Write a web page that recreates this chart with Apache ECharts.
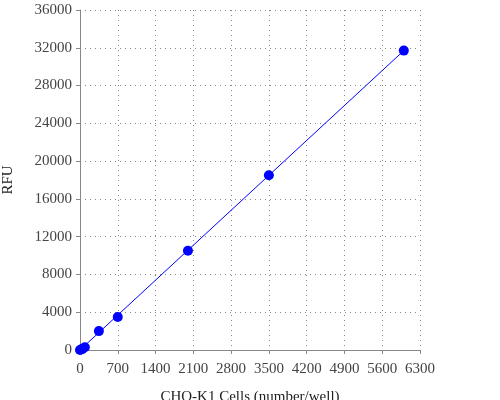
<!DOCTYPE html><html><head><script src="https://cdn.jsdelivr.net/npm/echarts@6/dist/echarts.min.js"></script></head><body style="margin:0"><div id="c" style="width:500px;height:400px"></div><script>
const xVals=[0,20,45,90,350,700,2000,3500,6000];
const yVals=[0,60,120,300,2000,3500,10500,18500,31700];
const fitX=[0,6000];const fitY=[0,31700];
const ch=echarts.init(document.getElementById('c'));
const f='Liberation Serif';
const ax={axisLine:{show:true,lineStyle:{color:'#888'}},axisTick:{show:true,length:4,lineStyle:{color:'#888'}},axisLabel:{color:'#444',fontFamily:f,fontSize:15,formatter:v=>String(v)},splitLine:{show:true,lineStyle:{type:[1,4],color:'#888'}},nameTextStyle:{color:'#222',fontFamily:f,fontSize:15}};
ch.setOption({animation:false,grid:{left:80,right:80,top:10,bottom:50,outerBoundsMode:'none',containLabel:false},
xAxis:Object.assign({type:'value',min:0,max:6300,interval:700,name:'CHO-K1 Cells (number/well)',nameLocation:'middle',nameGap:34},ax),
yAxis:Object.assign({type:'value',min:0,max:36000,interval:4000,name:'RFU',nameLocation:'middle',nameGap:60},ax),
series:[{type:'line',data:fitX.map((x,i)=>[x,fitY[i]]),showSymbol:false,lineStyle:{color:'#0000ff',width:1}},
{type:'scatter',data:xVals.map((x,i)=>[x,yVals[i]]),symbolSize:10,itemStyle:{color:'#0000ff',opacity:1}}]});
</script></body></html>
